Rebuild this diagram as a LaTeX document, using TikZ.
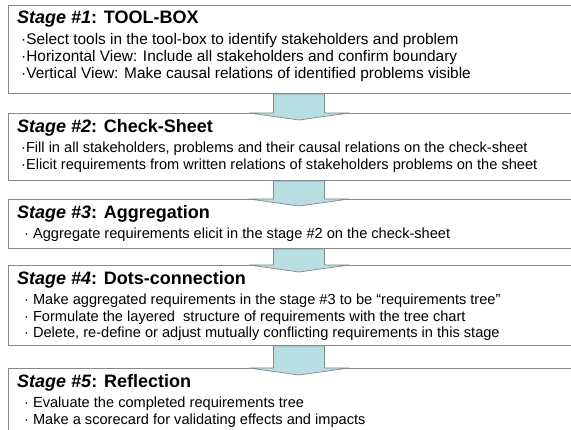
\documentclass[tikz,border=0pt]{standalone}
\usepackage{fontspec}
\setmainfont{Liberation Sans}
\usepackage{tikz}
\usetikzlibrary{positioning,calc}
\definecolor{shaftcyan}{RGB}{183,222,227}
\definecolor{edgegray}{RGB}{135,135,135}
\tikzset{
  stagebox/.style={draw=edgegray, line width=1pt, fill=white, anchor=north west, minimum width=581pt, minimum height=#1, inner sep=0pt},
  stagebox/.default={60pt},
  stagetext/.style={align=left, inner sep=0pt, font=\fontsize{14.6}{16.5}\selectfont},
  flowarrow/.style={draw=edgegray, line width=0.7pt, fill=shaftcyan, line join=miter}
}
\newcommand{\stagetitle}[2]{{\fontsize{18}{20}\selectfont\bfseries\textit{Stage \##1}: #2}}

\begin{document}
\begin{tikzpicture}[x=1pt,y=-1pt]
    \fill[white] (0,0) rectangle (571,430);
    \useasboundingbox (0,0) rectangle (571,430);
    \clip (0,0) rectangle (571,430);
    % stage boxes
    \node[stagebox=88pt] (s1) at (8,5) {};
    \node[stagebox=67pt, below=19pt of s1] (s2) {};
    \node[stagebox=49pt, below=18pt of s2] (s3) {};
    \node[stagebox=80pt, below=16pt of s3] (s4) {};
    \node[stagebox=80pt, below=22pt of s4] (s5) {};
    % stage texts
    \node[stagetext, font=\fontsize{15.4}{17}\selectfont, below right=6pt and 9pt of s1.north west] (t1) {\stagetitle{1}{TOOL-BOX}\\[4pt]
      \hspace*{4pt}·Select tools in the tool-box to identify stakeholders and problem\\
      \hspace*{4pt}·Horizontal View: Include all stakeholders and confirm boundary\\
      \hspace*{4pt}·Vertical View: Make causal relations of identified problems visible};
    \node[stagetext, below right=6pt and 9pt of s2.north west] (t2) {\stagetitle{2}{Check-Sheet}\\[4pt]
      \hspace*{4pt}·Fill in all stakeholders, problems and their causal relations on the check-sheet\\
      \hspace*{4pt}·Elicit requirements from written relations of stakeholders problems on the sheet};
    \node[stagetext, below right=6pt and 9pt of s3.north west] (t3) {\stagetitle{3}{Aggregation}\\[4pt]
      \hspace*{7pt}·\hspace{4pt}Aggregate requirements elicit in the stage \#2 on the check-sheet};
    \node[stagetext, below right=6pt and 9pt of s4.north west] (t4) {\stagetitle{4}{Dots-connection}\\[4pt]
      \hspace*{7pt}·\hspace{4pt}Make aggregated requirements in the stage \#3 to be “requirements tree”\\
      \hspace*{7pt}·\hspace{4pt}Formulate the layered\ \ structure of requirements with the tree chart\\
      \hspace*{7pt}·\hspace{4pt}Delete, re-define or adjust mutually conflicting requirements in this stage};
    \node[stagetext, below right=6pt and 9pt of s5.north west] (t5) {\stagetitle{5}{Reflection}\\[4pt]
      \hspace*{7pt}·\hspace{4pt}Evaluate the completed requirements tree\\
      \hspace*{7pt}·\hspace{4pt}Make a scorecard for validating effects and impacts};
    % block arrows between stages
    \foreach \a/\b in {s1/s2, s2/s3, s3/s4, s4/s5} {
      \draw[flowarrow] ($(\a.south)+(-25.5,0)$) -- ($(\b.north)+(-25.5,0)$) -- ($(\b.north)+(-50,0)$)
        -- ($(\b.north)+(0,7)$) -- ($(\b.north)+(50,0)$) -- ($(\b.north)+(25.5,0)$)
        -- ($(\a.south)+(25.5,0)$) -- cycle;
    }
\end{tikzpicture}
\end{document}
